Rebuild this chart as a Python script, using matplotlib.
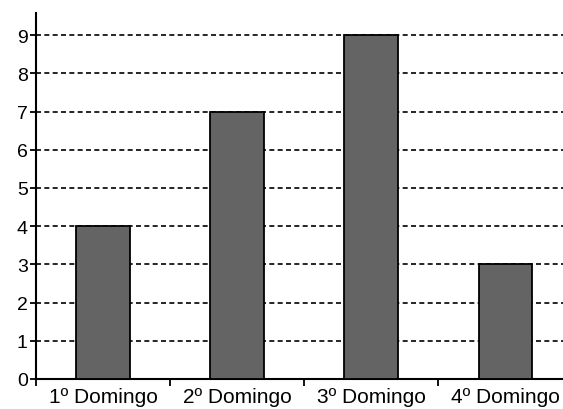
import numpy as np
import matplotlib.pyplot as plt

categorias = ['1º Domingo', '2º Domingo', '3º Domingo', '4º Domingo']
valores = [4, 7, 9, 3]

plt.rcParams['font.family'] = ['Liberation Sans', 'DejaVu Sans']

fig = plt.figure(figsize=(5.63, 4.10), dpi=100)
ax = fig.add_axes([36/563, 30/410, 527/563, 366/410])

x = np.arange(len(categorias))
ax.bar(x, valores, width=0.4, color='#646464', edgecolor='black', linewidth=1.3, zorder=3)

ax.set_xlim(-0.5, 3.43)
ax.set_ylim(0, 9.58)
ax.set_yticks(range(10))
ax.yaxis.grid(True, color='black', linestyle=(0, (3, 2)), linewidth=1.2, zorder=1)

ax.set_xticks(x)
ax.set_xticklabels(categorias, fontsize=15)
ax.set_xticks([-0.5, 0.5, 1.5, 2.5], minor=True)
ax.tick_params(axis='x', which='major', length=0, pad=6)
ax.tick_params(axis='x', which='minor', length=5, width=1.3, direction='out')
ax.tick_params(axis='y', labelsize=14, length=4, width=1.3, pad=2)

for s in ['top', 'right']:
    ax.spines[s].set_visible(False)
for s in ['left', 'bottom']:
    ax.spines[s].set_linewidth(1.5)

fig.savefig('out.png', dpi=100)
